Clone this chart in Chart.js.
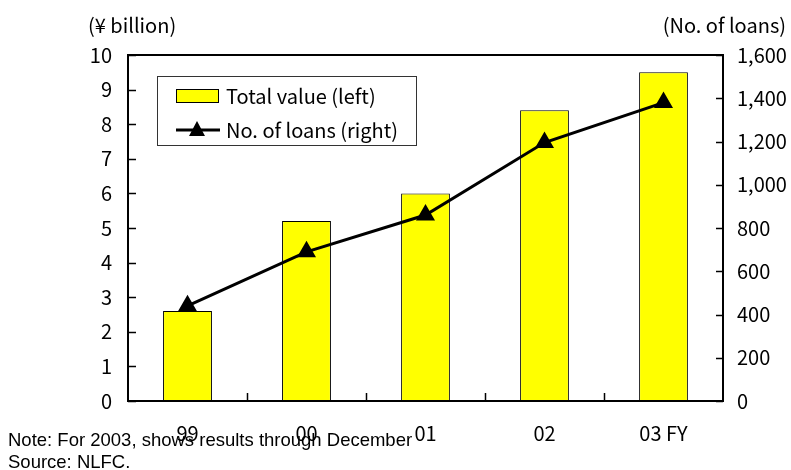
<!DOCTYPE html>
<html>
<head>
<meta charset="utf-8">
<script src="https://cdn.jsdelivr.net/npm/chart.js@4"></script>
<style>
  body { margin: 0; background: #fff; }
  #wrap { position: relative; width: 791px; height: 470px; }
  .note { position: absolute; left: 8px; font: 18.5px "Liberation Sans", Arial, sans-serif; color: #000; white-space: nowrap; line-height: 21px; }
</style>
</head>
<body>
<div id="wrap">
  <canvas id="loans" width="791" height="470"></canvas>
  <div class="note" style="top:429px">Note: For 2003, shows results through December</div>
  <div class="note" style="top:451px">Source: NLFC.</div>
</div>
<script>
// Fiscal years on the category axis
const years = ['99', '00', '01', '02', '03 FY'];
// Total loan value, ¥ billion (left axis)
const totalValue = [2.6, 5.2, 6.0, 8.4, 9.5];
// Number of loans (right axis)
const loanCount = [440, 690, 860, 1195, 1380];

const leftTicks = [0, 1, 2, 3, 4, 5, 6, 7, 8, 9, 10];
const rightTicks = [0, 200, 400, 600, 800, 1000, 1200, 1400, 1600];

const FONT = '"Noto Sans CJK JP", "DejaVu Sans", sans-serif';
const SIZE = 20;

// Frame, inward tick marks, unit captions and the boxed legend
const frameAndLegend = {
  id: 'frameAndLegend',
  afterDatasetsDraw(chart) {
    const { ctx, chartArea: a, scales } = chart;
    ctx.save();
    ctx.strokeStyle = '#000';
    ctx.lineWidth = 1.5;
    ctx.beginPath();
    leftTicks.forEach(v => {
      const y = Math.round(scales.y.getPixelForValue(v)) + 0.5;
      ctx.moveTo(a.left, y); ctx.lineTo(a.left + 8, y);
    });
    rightTicks.forEach(v => {
      const y = Math.round(scales.y1.getPixelForValue(v)) + 0.5;
      ctx.moveTo(a.right, y); ctx.lineTo(a.right - 7, y);
    });
    for (let i = 0; i < years.length - 1; i++) {
      const x = Math.round((scales.x.getPixelForValue(i) + scales.x.getPixelForValue(i + 1)) / 2) + 0.5;
      ctx.moveTo(x, a.bottom); ctx.lineTo(x, a.bottom - 8);
    }
    ctx.stroke();

    ctx.lineWidth = 2;
    ctx.strokeRect(a.left, a.top, a.right - a.left, a.bottom - a.top);

    // unit captions above each axis
    ctx.fillStyle = '#000';
    ctx.font = SIZE + 'px ' + FONT;
    ctx.textBaseline = 'middle';
    ctx.textAlign = 'left';
    ctx.fillText('(¥ billion)', 88, 25);
    ctx.textAlign = 'right';
    ctx.fillText('(No. of loans)', 786, 25);

    // legend box
    ctx.fillStyle = '#fff';
    ctx.fillRect(157, 76, 259, 69);
    ctx.lineWidth = 1;
    ctx.strokeStyle = '#333';
    ctx.strokeRect(157.5, 76.5, 259, 69);

    ctx.fillStyle = '#FFFF00';
    ctx.fillRect(176, 89, 42, 13);
    ctx.strokeStyle = '#000';
    ctx.strokeRect(176.5, 89.5, 42, 13);

    ctx.lineWidth = 3;
    ctx.beginPath();
    ctx.moveTo(176, 130); ctx.lineTo(220, 130);
    ctx.stroke();
    ctx.fillStyle = '#000';
    ctx.beginPath();
    ctx.moveTo(197, 121); ctx.lineTo(205, 136); ctx.lineTo(189, 136);
    ctx.closePath();
    ctx.fill();

    ctx.textAlign = 'left';
    ctx.fillText('Total value (left)', 226, 96);
    ctx.fillText('No. of loans (right)', 226, 130);
    ctx.restore();
  }
};

new Chart(document.getElementById('loans'), {
  type: 'bar',
  data: {
    labels: years,
    datasets: [
      {
        label: 'No. of loans (right)',
        type: 'line',
        data: loanCount,
        yAxisID: 'y1',
        borderColor: '#000',
        borderWidth: 3,
        pointStyle: 'triangle',
        pointRadius: 8,
        pointBackgroundColor: '#000',
        pointBorderColor: '#000',
        tension: 0,
        fill: false,
        order: 0
      },
      {
        label: 'Total value (left)',
        data: totalValue,
        yAxisID: 'y',
        backgroundColor: '#FFFF00',
        borderColor: '#000',
        borderWidth: 1,
        categoryPercentage: 1,
        barPercentage: 0.41,
        order: 1
      }
    ]
  },
  options: {
    responsive: false,
    animation: false,
    layout: { padding: { top: 55, left: 0, right: 0, bottom: 0 } },
    plugins: { legend: { display: false }, tooltip: { enabled: false } },
    scales: {
      x: {
        grid: { display: false },
        border: { display: false },
        ticks: { color: '#000', font: { size: SIZE, family: FONT }, padding: 12, maxRotation: 0 },
        afterFit: s => { s.height = 69; }
      },
      y: {
        position: 'left',
        min: 0, max: 10,
        grid: { display: false },
        border: { display: false },
        ticks: { stepSize: 1, color: '#000', font: { size: SIZE, family: FONT }, padding: 8 },
        afterFit: s => { s.width = 128; }
      },
      y1: {
        position: 'right',
        min: 0, max: 1600,
        grid: { display: false },
        border: { display: false },
        ticks: {
          stepSize: 200, color: '#000', font: { size: SIZE, family: FONT }, padding: 6,
          callback: v => v.toLocaleString('en-US')
        },
        afterFit: s => { s.width = 68; }
      }
    }
  },
  plugins: [frameAndLegend]
});
</script>
</body>
</html>
